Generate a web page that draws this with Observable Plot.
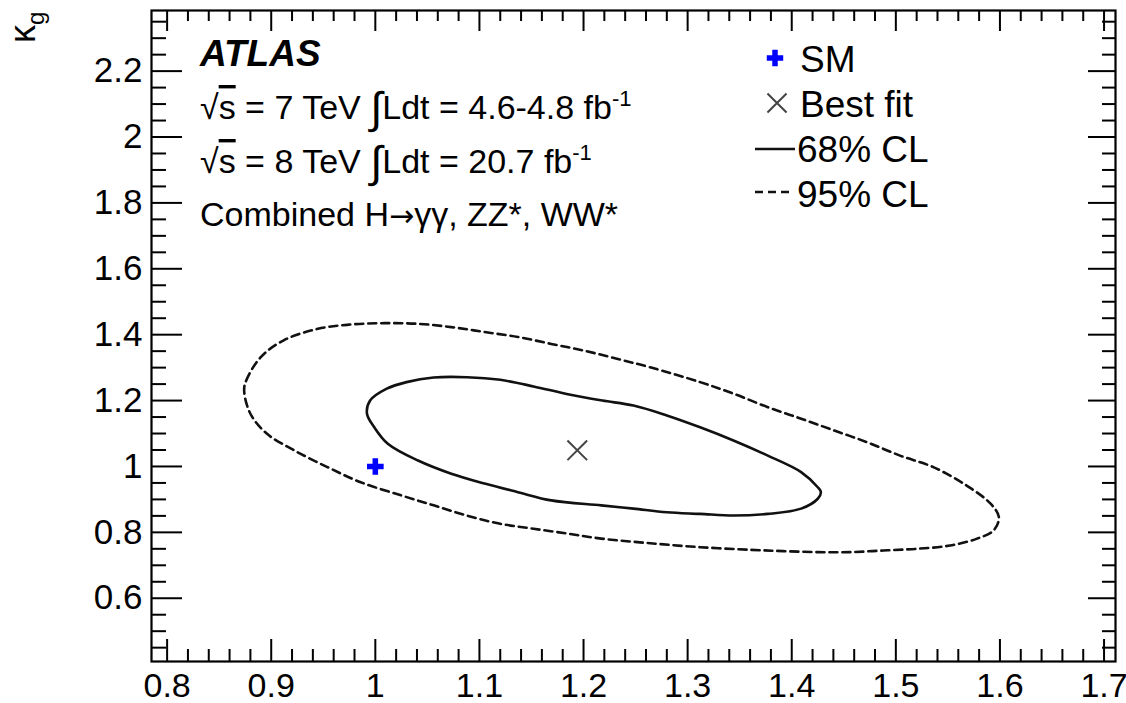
<!DOCTYPE html>
<html><head><meta charset="utf-8">
<script src="https://cdn.jsdelivr.net/npm/d3@7"></script>
<script src="https://cdn.jsdelivr.net/npm/@observablehq/plot@0.6"></script>
<style>body{margin:0;background:#fff} svg{display:block}</style>
</head><body><div id="chart"></div>
<script>
const xDomain = [0.785, 1.711];
const yDomain = [0.408, 2.384];
const xMajorTicks = [0.8, 0.9, 1.0, 1.1, 1.2, 1.3, 1.4, 1.5, 1.6, 1.7];
const xTickLabels = ["0.8", "0.9", "1", "1.1", "1.2", "1.3", "1.4", "1.5", "1.6", "1.7"];
const xMinorTicks = [0.82,0.84,0.86,0.88, 0.92,0.94,0.96,0.98, 1.02,1.04,1.06,1.08, 1.12,1.14,1.16,1.18,
  1.22,1.24,1.26,1.28, 1.32,1.34,1.36,1.38, 1.42,1.44,1.46,1.48, 1.52,1.54,1.56,1.58, 1.62,1.64,1.66,1.68];
const yMajorTicks = [0.6, 0.8, 1.0, 1.2, 1.4, 1.6, 1.8, 2.0, 2.2];
const yTickLabels = ["0.6", "0.8", "1", "1.2", "1.4", "1.6", "1.8", "2", "2.2"];
const yMinorTicks = [0.45,0.5,0.55, 0.65,0.7,0.75, 0.85,0.9,0.95, 1.05,1.1,1.15, 1.25,1.3,1.35, 1.45,1.5,1.55,
  1.65,1.7,1.75, 1.85,1.9,1.95, 2.05,2.1,2.15, 2.25,2.3,2.35];

// 68% CL contour (kappa_V, kappa_g)
const cl68 = [
  [0.992,1.160],[0.995,1.200],[1.011,1.236],[1.030,1.256],[1.056,1.270],[1.088,1.271],[1.120,1.263],
  [1.152,1.243],[1.185,1.219],[1.218,1.200],[1.248,1.185],[1.280,1.155],[1.312,1.119],[1.344,1.079],
  [1.377,1.033],[1.409,0.983],[1.425,0.937],[1.428,0.922],[1.425,0.902],[1.409,0.872],[1.377,0.856],
  [1.344,0.851],[1.312,0.856],[1.280,0.861],[1.248,0.872],[1.217,0.882],[1.169,0.897],[1.137,0.922],
  [1.105,0.948],[1.073,0.978],[1.041,1.018],[1.012,1.069],[0.999,1.119]
];
// 95% CL contour
const cl95 = [
  [0.874,1.231],[0.876,1.261],[0.890,1.332],[0.912,1.383],[0.945,1.418],[0.977,1.431],[1.009,1.435],
  [1.041,1.433],[1.073,1.423],[1.105,1.408],[1.137,1.393],[1.169,1.372],[1.200,1.352],[1.232,1.327],
  [1.264,1.301],[1.312,1.256],[1.344,1.221],[1.377,1.180],[1.409,1.145],[1.441,1.109],[1.472,1.074],
  [1.504,1.033],[1.536,0.998],[1.568,0.942],[1.591,0.887],[1.599,0.846],[1.594,0.806],[1.578,0.781],
  [1.552,0.760],[1.520,0.750],[1.488,0.745],[1.456,0.740],[1.425,0.740],[1.392,0.743],[1.361,0.747],
  [1.312,0.755],[1.264,0.767],[1.217,0.781],[1.185,0.796],[1.152,0.811],[1.120,0.826],[1.088,0.851],
  [1.056,0.882],[1.025,0.912],[0.986,0.952],[0.954,0.998],[0.922,1.049],[0.896,1.099],[0.880,1.160]
];
const smPoint = [[1.0, 1.0]];
const bestFit = [[1.194, 1.049]];
const legendLabels = ["SM", "Best fit", "68% CL", "95% CL"];

const FONT = "'Liberation Sans', Arial, Helvetica, sans-serif";
const blank = () => "";

const plot = Plot.plot({
  width: 1126, height: 703,
  marginLeft: 151, marginRight: 11, marginTop: 10, marginBottom: 42,
  x: {domain: xDomain},
  y: {domain: yDomain},
  style: {fontFamily: FONT, fontSize: "35px", color: "#000", background: "#fff", overflow: "visible"},
  marks: [
    Plot.line(cl95, {x: d => d[0], y: d => d[1], curve: "catmull-rom-closed", stroke: "#111", strokeWidth: 2.6, strokeDasharray: "8,5"}),
    Plot.line(cl68, {x: d => d[0], y: d => d[1], curve: "catmull-rom-closed", stroke: "#111", strokeWidth: 2.6}),
    Plot.dot(smPoint, {x: d => d[0], y: d => d[1], symbol: "cross", fill: "#0000ff", r: 7}),
    Plot.dot(bestFit, {x: d => d[0], y: d => d[1], symbol: "times", stroke: "#444", strokeWidth: 2, r: 9}),
    // inside ticks
    Plot.axisX(xMajorTicks, {anchor: "bottom", tickSize: -22, tickFormat: blank, strokeWidth: 2, label: null}),
    Plot.axisX(xMinorTicks, {anchor: "bottom", tickSize: -12, tickFormat: blank, strokeWidth: 2, label: null}),
    Plot.axisX(xMajorTicks, {anchor: "top", tickSize: -20, tickFormat: blank, strokeWidth: 2, label: null}),
    Plot.axisX(xMinorTicks, {anchor: "top", tickSize: -10, tickFormat: blank, strokeWidth: 2, label: null}),
    Plot.axisY(yMajorTicks, {anchor: "left", tickSize: -31, tickFormat: blank, strokeWidth: 2, label: null}),
    Plot.axisY(yMinorTicks, {anchor: "left", tickSize: -15, tickFormat: blank, strokeWidth: 2, label: null}),
    Plot.axisY(yMajorTicks, {anchor: "right", tickSize: -28, tickFormat: blank, strokeWidth: 2, label: null}),
    Plot.axisY(yMinorTicks, {anchor: "right", tickSize: -14, tickFormat: blank, strokeWidth: 2, label: null}),
    // labels
    Plot.axisX(xMajorTicks, {anchor: "bottom", tickSize: 0, tickPadding: 11, fontSize: 34, tickFormat: (d, i) => xTickLabels[i], label: null}),
    Plot.axisY(yMajorTicks, {anchor: "left", tickSize: 0, tickPadding: 9, fontSize: 35, tickFormat: (d, i) => yTickLabels[i], label: null}),
    Plot.frame({stroke: "#000", strokeWidth: 2.2})
  ]
});
document.getElementById("chart").append(plot);

const svg = d3.select(plot);
const g = svg.append("g").attr("font-family", FONT).attr("fill", "#000").attr("text-anchor", "start");

// y-axis title kappa_g
const yl = g.append("text").attr("transform", "translate(35,43) rotate(-90)").attr("font-size", 36);
yl.append("tspan").text("κ");
yl.append("tspan").attr("font-size", 24).attr("dy", 9).text("g");

// ATLAS label
g.append("text").attr("x", 200).attr("y", 66).attr("font-size", 37)
  .attr("font-weight", "bold").attr("font-style", "italic").text("ATLAS");

function lumiLine(y, energy, lumi) {
  const t = g.append("text").attr("x", 200).attr("y", y).attr("font-size", 34);
  t.append("tspan").text("√");
  t.append("tspan").style("text-decoration", "overline").text("s");
  t.append("tspan").text(` = ${energy} TeV `);
  t.append("tspan").attr("font-size", 44).attr("dy", 4).text("∫");
  t.append("tspan").attr("dy", -4).text(`Ldt = ${lumi} fb`);
  t.append("tspan").attr("font-size", 22).attr("dy", -13).text("-1");
}
lumiLine(119, "7", "4.6-4.8");
lumiLine(173, "8", "20.7");
const comb = g.append("text").attr("x", 200).attr("y", 226).attr("font-size", 34);
comb.append("tspan").text("Combined H");
comb.append("tspan").attr("font-family", "'DejaVu Sans', sans-serif").attr("font-size", 30).text("→");
comb.append("tspan").text("γγ, ZZ*, WW*");

// legend
g.append("path").attr("d", d3.symbol(d3.symbolCross, 150)()).attr("transform", "translate(775,58)").attr("fill", "#0000ff");
g.append("path").attr("d", d3.symbol(d3.symbolTimes, 240)()).attr("transform", "translate(777,103)")
  .attr("fill", "none").attr("stroke", "#444").attr("stroke-width", 2);
g.append("line").attr("x1", 755).attr("x2", 795).attr("y1", 149).attr("y2", 149).attr("stroke", "#111").attr("stroke-width", 2.6);
g.append("line").attr("x1", 755).attr("x2", 792).attr("y1", 192).attr("y2", 192).attr("stroke", "#111").attr("stroke-width", 2.6).attr("stroke-dasharray", "8,5");
const legY = [72, 117, 162, 207];
const legX = [800, 800, 797, 797];
legendLabels.forEach((s, i) => {
  g.append("text").attr("x", legX[i]).attr("y", legY[i]).attr("font-size", 37).text(s);
});
</script>
</body></html>
